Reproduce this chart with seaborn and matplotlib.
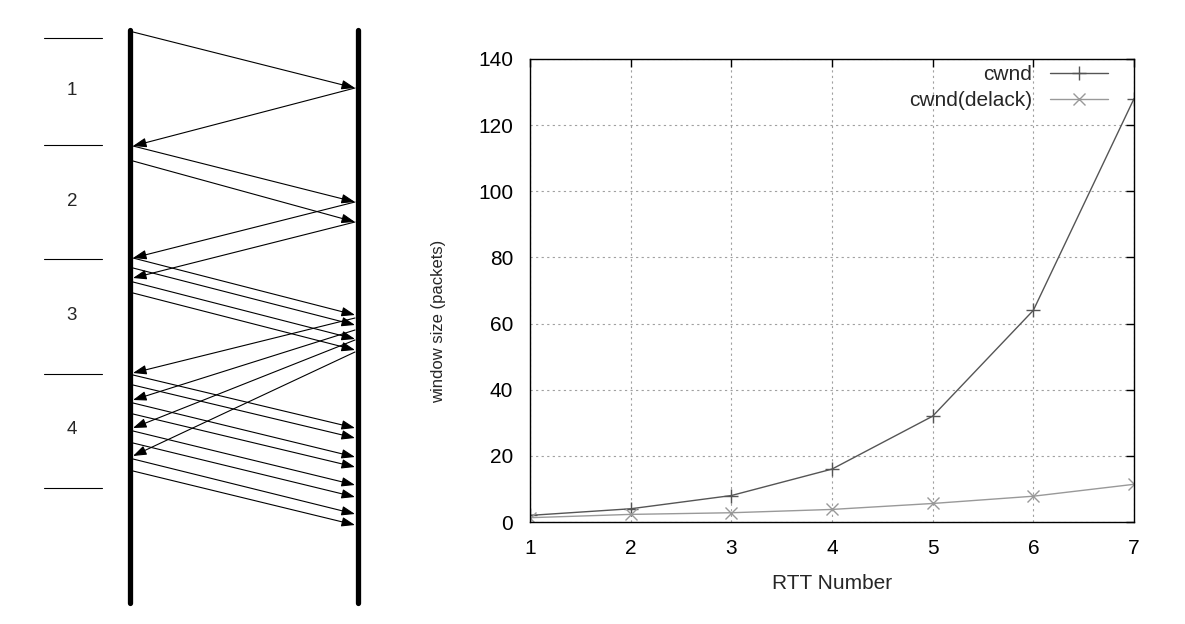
import matplotlib
matplotlib.use("Agg")
import matplotlib.pyplot as plt
import seaborn as sns
import pandas as pd

# --- right panel: window growth per RTT ---
rtt = [1, 2, 3, 4, 5, 6, 7]
cwnd = [2, 4, 8, 16, 32, 64, 128]
cwnd_delack = [1.3, 2.3, 2.8, 3.8, 5.6, 7.8, 11.4]
series_names = ["cwnd", "cwnd(delack)"]
y_ticks = [0, 20, 40, 60, 80, 100, 120, 140]

# --- left panel: packet timeline (time runs downward) ---
rtt_bounds = [38, 145, 259, 374, 488]
rtt_labels = ["1", "2", "3", "4"]
data_send = [32, 146, 161, 258, 268, 282, 293,
             375, 385, 403, 414, 431, 443, 459, 471]
data_arrive = [88, 202, 222, 315, 325, 339, 350,
               428, 438, 457, 467, 485, 497, 514, 525]
ack_send = [88, 202, 222, 318, 330, 340, 352]
ack_arrive = [146, 258, 278, 373, 400, 428, 456]

sns.set_style("white")
plt.rcParams["font.family"] = ["Liberation Sans", "DejaVu Sans"]

fig = plt.figure(figsize=(11.85, 6.24), dpi=100)

# timeline diagram
axl = fig.add_axes([0, 0, 400 / 1185, 1])
axl.set_xlim(0, 400)
axl.set_ylim(624, 0)
axl.axis("off")

sender_x, receiver_x = 130, 358
for x in (sender_x, receiver_x):
    axl.plot([x, x], [30, 603], color="black", lw=3.8, solid_capstyle="round")

for y in rtt_bounds:
    axl.plot([44, 102], [y, y], color="black", lw=0.8)
for i, lab in enumerate(rtt_labels):
    mid = (rtt_bounds[i] + rtt_bounds[i + 1]) / 2
    axl.text(72, mid - 1, lab, ha="center", va="center", fontsize=13.5)

arrow = dict(arrowstyle="-|>,head_length=0.45,head_width=0.16", color="black",
             lw=0.8, shrinkA=0, shrinkB=0, mutation_scale=18)
for s, a in zip(data_send, data_arrive):
    axl.annotate("", xy=(receiver_x - 3, a), xytext=(sender_x + 3, s), arrowprops=arrow)
for s, a in zip(ack_send, ack_arrive):
    axl.annotate("", xy=(sender_x + 3, a), xytext=(receiver_x - 3, s), arrowprops=arrow)

# cwnd chart
ax = fig.add_axes([530 / 1185, 102 / 624, 604 / 1185, 463 / 624])
df = pd.DataFrame({"rtt": rtt + rtt,
                   "win": cwnd + cwnd_delack,
                   "series": [series_names[0]] * len(rtt) + [series_names[1]] * len(rtt)})

dark, light = "#555555", "#999999"
sns.lineplot(data=df[df.series == series_names[0]], x="rtt", y="win", ax=ax,
             color=dark, lw=1.0, marker="+", markersize=10, markeredgewidth=1.0,
             markeredgecolor=dark, label=series_names[0])
sns.lineplot(data=df[df.series == series_names[1]], x="rtt", y="win", ax=ax,
             color=light, lw=1.0, marker="x", markersize=8, markeredgewidth=1.0,
             markeredgecolor=light, label=series_names[1])

ax.set_xlim(1, 7)
ax.set_ylim(0, 140)
ax.set_xticks(rtt)
ax.set_yticks(y_ticks)
ax.grid(True, color="#a0a0a0", lw=0.8, linestyle=(0, (2, 3)))
for sp in ax.spines.values():
    sp.set_visible(True)
    sp.set_color("black")
    sp.set_linewidth(1.0)
ax.tick_params(direction="in", length=6, width=1, top=True, right=True,
               labelsize=15, pad=12, colors="black")
ax.set_xlabel("RTT Number", fontsize=15, labelpad=12)
ax.set_ylabel("window size (packets)", fontsize=12)
ax.yaxis.set_label_coords(-0.139, 0.434)

leg = ax.legend(loc="upper right", frameon=False, markerfirst=False,
                fontsize=15, handlelength=2.8, handletextpad=0.85,
                labelspacing=0.35, borderpad=0, borderaxespad=0,
                bbox_to_anchor=(1 - 26 / 604, 1 - 6 / 463))
for t in leg.get_texts():
    t.set_ha("right")

fig.savefig("out.png", dpi=100)
